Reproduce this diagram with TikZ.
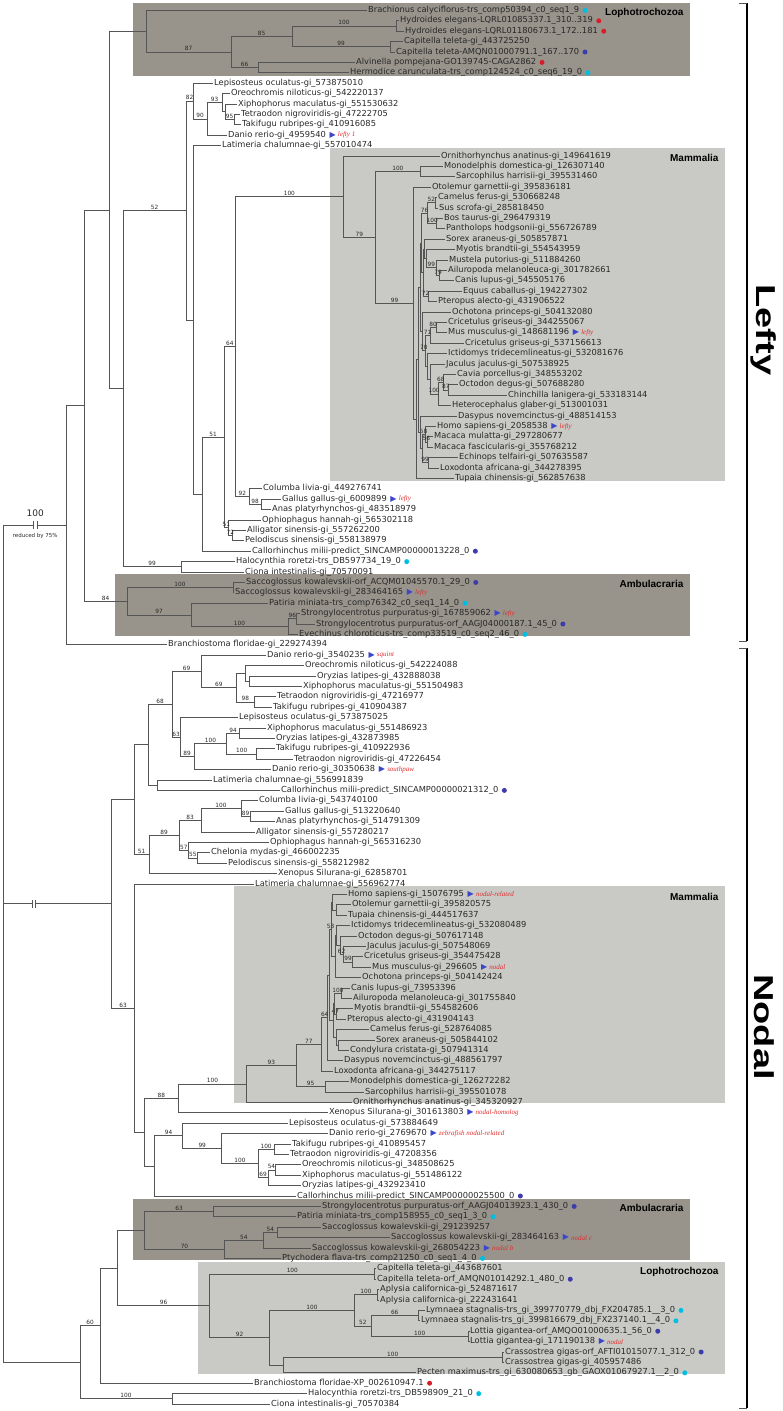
\documentclass[tikz,border=0pt]{standalone}
\usepackage{fontspec}
\setmainfont{DejaVu Sans}
\newfontfamily\grpfont{Liberation Sans}
\newfontfamily\tagfont{Liberation Serif}
\usetikzlibrary{positioning,calc}

\definecolor{edgecol}{RGB}{85,85,85}
\definecolor{leafcol}{RGB}{40,40,40}
\definecolor{darkbox}{RGB}{152,148,139}
\definecolor{lightbox}{RGB}{201,202,198}
\definecolor{cyanc}{RGB}{0,190,225}
\definecolor{redc}{RGB}{215,30,40}
\definecolor{bluec}{RGB}{60,60,170}
\definecolor{triblue}{RGB}{60,70,200}
\definecolor{tagred}{RGB}{225,45,45}

% internal node: name, x, first child, last child, labels
\newcommand\nd[6]{%
  \path let \p1=($(#3)!.5!(#4)$) in coordinate (#1) at (#2pt,\y1);
  \draw[edge] (#1) |- node[bs]{#5} (#3);
  \draw[edge] (#1) |- node[bs]{#6} (#4);}

\begin{document}
\begin{tikzpicture}[x=1pt, y=-10.4pt,
  leaf/.style={anchor=west, inner xsep=1pt, inner ysep=0pt, text height=6pt, text depth=1.7pt, font=\fontsize{8.3}{9}\selectfont, text=leafcol},
  edge/.style={draw=edgecol, line width=0.8pt},
  bs/.style={above, pos=.75, inner sep=0.6pt, font=\fontsize{5.8}{6}\selectfont, text=leafcol},
  cdot/.style={circle, inner sep=0pt, minimum size=5pt, fill=cyanc},
  rdot/.style={circle, inner sep=0pt, minimum size=5pt, fill=redc},
  bdot/.style={circle, inner sep=0pt, minimum size=5pt, fill=bluec},
  tri/.style={inner sep=0.3pt, font=\fontsize{8}{8}\selectfont, text=triblue},
  tag/.style={inner sep=0.5pt, font=\tagfont\itshape\fontsize{7}{8}\selectfont, text=tagred},
  grp/.style={font=\grpfont\bfseries\fontsize{10}{11}\selectfont, anchor=east, text=black},
  big/.style={font=\grpfont\bfseries\fontsize{38}{40}\selectfont, rotate=-90, yscale=0.72},
  brk/.style={fill=white, inner sep=0pt, minimum width=3pt, minimum height=7pt}]
\useasboundingbox (0pt,0pt) rectangle (782pt,-1411pt);

% clade boxes
\fill[darkbox] (133pt,-3pt) rectangle (690pt,-76pt);
\fill[lightbox] (330pt,-148pt) rectangle (725pt,-481pt);
\fill[darkbox] (115pt,-574pt) rectangle (690pt,-636pt);
\fill[lightbox] (234pt,-886pt) rectangle (725pt,-1103pt);
\fill[darkbox] (133pt,-1199pt) rectangle (690pt,-1260pt);
\fill[lightbox] (198pt,-1262pt) rectangle (725pt,-1374pt);
\node[grp] (g1) at (687pt,-13pt) {Lophotrochozoa};
\node[grp] (g2) at (722pt,-158pt) {Mammalia};
\node[grp] (g3) at (687pt,-584pt) {Ambulacraria};
\node[grp] (g4) at (722pt,-897pt) {Mammalia};
\node[grp] (g5) at (687pt,-1208pt) {Ambulacraria};
\node[grp] (g6) at (722pt,-1272pt) {Lophotrochozoa};

% leaves
\node[leaf] (l1) at (367,1) {Brachionus calyciflorus-trs\_comp50394\_c0\_seq1\_9};
\node[leaf] (l2) at (399,2) {Hydroides elegans-LQRL01085337.1\_310..319};
\node[leaf] (l3) at (404,3) {Hydroides elegans-LQRL01180673.1\_172..181};
\node[leaf] (l4) at (403,4) {Capitella teleta-gi\_443725250};
\node[leaf] (l5) at (395,5) {Capitella teleta-AMQN01000791.1\_167..170};
\node[leaf] (l6) at (355,6) {Alvinella pompejana-GO139745-CAGA2862};
\node[leaf] (l7) at (349,7) {Hermodice carunculata-trs\_comp124524\_c0\_seq6\_19\_0};
\node[leaf] (l8) at (213,8) {Lepisosteus oculatus-gi\_573875010};
\node[leaf] (l9) at (230,9) {Oreochromis niloticus-gi\_542220137};
\node[leaf] (l10) at (237,10) {Xiphophorus maculatus-gi\_551530632};
\node[leaf] (l11) at (240,11) {Tetraodon nigroviridis-gi\_47222705};
\node[leaf] (l12) at (241,12) {Takifugu rubripes-gi\_410916085};
\node[leaf] (l13) at (227,13) {Danio rerio-gi\_4959540};
\node[leaf] (l14) at (221,14) {Latimeria chalumnae-gi\_557010474};
\node[leaf] (l15) at (440,15) {Ornithorhynchus anatinus-gi\_149641619};
\node[leaf] (l16) at (443,16) {Monodelphis domestica-gi\_126307140};
\node[leaf] (l17) at (455,17) {Sarcophilus harrisii-gi\_395531460};
\node[leaf] (l18) at (431,18) {Otolemur garnettii-gi\_395836181};
\node[leaf] (l19) at (437,19) {Camelus ferus-gi\_530668248};
\node[leaf] (l20) at (438,20) {Sus scrofa-gi\_285818450};
\node[leaf] (l21) at (443,21) {Bos taurus-gi\_296479319};
\node[leaf] (l22) at (445,22) {Pantholops hodgsonii-gi\_556726789};
\node[leaf] (l23) at (445,23) {Sorex araneus-gi\_505857871};
\node[leaf] (l24) at (455,24) {Myotis brandtii-gi\_554543959};
\node[leaf] (l25) at (448,25) {Mustela putorius-gi\_511884260};
\node[leaf] (l26) at (447,26) {Ailuropoda melanoleuca-gi\_301782661};
\node[leaf] (l27) at (454,27) {Canis lupus-gi\_545505176};
\node[leaf] (l28) at (462,28) {Equus caballus-gi\_194227302};
\node[leaf] (l29) at (437,29) {Pteropus alecto-gi\_431906522};
\node[leaf] (l30) at (451,30) {Ochotona princeps-gi\_504132080};
\node[leaf] (l31) at (447,31) {Cricetulus griseus-gi\_344255067};
\node[leaf] (l32) at (447,32) {Mus musculus-gi\_148681196};
\node[leaf] (l33) at (464,33) {Cricetulus griseus-gi\_537156613};
\node[leaf] (l34) at (447,34) {Ictidomys tridecemlineatus-gi\_532081676};
\node[leaf] (l35) at (445,35) {Jaculus jaculus-gi\_507538925};
\node[leaf] (l36) at (456,36) {Cavia porcellus-gi\_348553202};
\node[leaf] (l37) at (458,37) {Octodon degus-gi\_507688280};
\node[leaf] (l38) at (507,38) {Chinchilla lanigera-gi\_533183144};
\node[leaf] (l39) at (451,39) {Heterocephalus glaber-gi\_513001031};
\node[leaf] (l40) at (457,40) {Dasypus novemcinctus-gi\_488514153};
\node[leaf] (l41) at (436,41) {Homo sapiens-gi\_2058538};
\node[leaf] (l42) at (433,42) {Macaca mulatta-gi\_297280677};
\node[leaf] (l43) at (433,43) {Macaca fascicularis-gi\_355768212};
\node[leaf] (l44) at (458,44) {Echinops telfairi-gi\_507635587};
\node[leaf] (l45) at (439,45) {Loxodonta africana-gi\_344278395};
\node[leaf] (l46) at (454,46) {Tupaia chinensis-gi\_562857638};
\node[leaf] (l47) at (262,47) {Columba livia-gi\_449276741};
\node[leaf] (l48) at (281,48) {Gallus gallus-gi\_6009899};
\node[leaf] (l49) at (271,49) {Anas platyrhynchos-gi\_483518979};
\node[leaf] (l50) at (261,50) {Ophiophagus hannah-gi\_565302118};
\node[leaf] (l51) at (246,51) {Alligator sinensis-gi\_557262200};
\node[leaf] (l52) at (244,52) {Pelodiscus sinensis-gi\_558138979};
\node[leaf] (l53) at (251,53) {Callorhinchus milii-predict\_SINCAMP00000013228\_0};
\node[leaf] (l54) at (235,54) {Halocynthia roretzi-trs\_DB597734\_19\_0};
\node[leaf] (l55) at (244,55) {Ciona intestinalis-gi\_70570091};
\node[leaf] (l56) at (245,56) {Saccoglossus kowalevskii-orf\_ACQM01045570.1\_29\_0};
\node[leaf] (l57) at (234,57) {Saccoglossus kowalevskii-gi\_283464165};
\node[leaf] (l58) at (268,58) {Patiria miniata-trs\_comp76342\_c0\_seq1\_14\_0};
\node[leaf] (l59) at (300,59) {Strongylocentrotus purpuratus-gi\_167859062};
\node[leaf] (l60) at (315,60) {Strongylocentrotus purpuratus-orf\_AAGJ04000187.1\_45\_0};
\node[leaf] (l61) at (298,61) {Evechinus chloroticus-trs\_comp33519\_c0\_seq2\_46\_0};
\node[leaf] (l62) at (167,62) {Branchiostoma floridae-gi\_229274394};
\node[leaf] (l63) at (266,63) {Danio rerio-gi\_3540235};
\node[leaf] (l64) at (304,64) {Oreochromis niloticus-gi\_542224088};
\node[leaf] (l65) at (316,65) {Oryzias latipes-gi\_432888038};
\node[leaf] (l66) at (302,66) {Xiphophorus maculatus-gi\_551504983};
\node[leaf] (l67) at (276,67) {Tetraodon nigroviridis-gi\_47216977};
\node[leaf] (l68) at (272,68) {Takifugu rubripes-gi\_410904387};
\node[leaf] (l69) at (238,69) {Lepisosteus oculatus-gi\_573875025};
\node[leaf] (l70) at (266,70) {Xiphophorus maculatus-gi\_551486923};
\node[leaf] (l71) at (275,71) {Oryzias latipes-gi\_432873985};
\node[leaf] (l72) at (275,72) {Takifugu rubripes-gi\_410922936};
\node[leaf] (l73) at (293,73) {Tetraodon nigroviridis-gi\_47226454};
\node[leaf] (l74) at (271,74) {Danio rerio-gi\_30350638};
\node[leaf] (l75) at (212,75) {Latimeria chalumnae-gi\_556991839};
\node[leaf] (l76) at (280,76) {Callorhinchus milii-predict\_SINCAMP00000021312\_0};
\node[leaf] (l77) at (258,77) {Columba livia-gi\_543740100};
\node[leaf] (l78) at (284,78) {Gallus gallus-gi\_513220640};
\node[leaf] (l79) at (275,79) {Anas platyrhynchos-gi\_514791309};
\node[leaf] (l80) at (255,80) {Alligator sinensis-gi\_557280217};
\node[leaf] (l81) at (269,81) {Ophiophagus hannah-gi\_565316230};
\node[leaf] (l82) at (210,82) {Chelonia mydas-gi\_466002235};
\node[leaf] (l83) at (227,83) {Pelodiscus sinensis-gi\_558212982};
\node[leaf] (l84) at (277,84) {Xenopus Silurana-gi\_62858701};
\node[leaf] (l85) at (254,85) {Latimeria chalumnae-gi\_556962774};
\node[leaf] (l86) at (347,86) {Homo sapiens-gi\_15076795};
\node[leaf] (l87) at (351,87) {Otolemur garnettii-gi\_395820575};
\node[leaf] (l88) at (347,88) {Tupaia chinensis-gi\_444517637};
\node[leaf] (l89) at (350,89) {Ictidomys tridecemlineatus-gi\_532080489};
\node[leaf] (l90) at (357,90) {Octodon degus-gi\_507617148};
\node[leaf] (l91) at (366,91) {Jaculus jaculus-gi\_507548069};
\node[leaf] (l92) at (363,92) {Cricetulus griseus-gi\_354475428};
\node[leaf] (l93) at (371,93) {Mus musculus-gi\_296605};
\node[leaf] (l94) at (361,94) {Ochotona princeps-gi\_504142424};
\node[leaf] (l95) at (350,95) {Canis lupus-gi\_73953396};
\node[leaf] (l96) at (352,96) {Ailuropoda melanoleuca-gi\_301755840};
\node[leaf] (l97) at (353,97) {Myotis brandtii-gi\_554582606};
\node[leaf] (l98) at (346,98) {Pteropus alecto-gi\_431904143};
\node[leaf] (l99) at (369,99) {Camelus ferus-gi\_528764085};
\node[leaf] (l100) at (375,100) {Sorex araneus-gi\_505844102};
\node[leaf] (l101) at (349,101) {Condylura cristata-gi\_507941314};
\node[leaf] (l102) at (343,102) {Dasypus novemcinctus-gi\_488561797};
\node[leaf] (l103) at (333,103) {Loxodonta africana-gi\_344275117};
\node[leaf] (l104) at (349,104) {Monodelphis domestica-gi\_126272282};
\node[leaf] (l105) at (364,105) {Sarcophilus harrisii-gi\_395501078};
\node[leaf] (l106) at (352,106) {Ornithorhynchus anatinus-gi\_345320927};
\node[leaf] (l107) at (328,107) {Xenopus Silurana-gi\_301613803};
\node[leaf] (l108) at (288,108) {Lepisosteus oculatus-gi\_573884649};
\node[leaf] (l109) at (328,109) {Danio rerio-gi\_2769670};
\node[leaf] (l110) at (291,110) {Takifugu rubripes-gi\_410895457};
\node[leaf] (l111) at (289,111) {Tetraodon nigroviridis-gi\_47208356};
\node[leaf] (l112) at (301,112) {Oreochromis niloticus-gi\_348508625};
\node[leaf] (l113) at (301,113) {Xiphophorus maculatus-gi\_551486122};
\node[leaf] (l114) at (301,114) {Oryzias latipes-gi\_432923410};
\node[leaf] (l115) at (296,115) {Callorhinchus milii-predict\_SINCAMP00000025500\_0};
\node[leaf] (l116) at (321,116) {Strongylocentrotus purpuratus-orf\_AAGJ04013923.1\_430\_0};
\node[leaf] (l117) at (296,117) {Patiria miniata-trs\_comp158955\_c0\_seq1\_3\_0};
\node[leaf] (l118) at (321,118) {Saccoglossus kowalevskii-gi\_291239257};
\node[leaf] (l119) at (390,119) {Saccoglossus kowalevskii-gi\_283464163};
\node[leaf] (l120) at (311,120) {Saccoglossus kowalevskii-gi\_268054223};
\node[leaf] (l121) at (281,121) {Ptychodera flava-trs\_comp21250\_c0\_seq1\_4\_0};
\node[leaf] (l122) at (376,122) {Capitella teleta-gi\_443687601};
\node[leaf] (l123) at (376,123) {Capitella teleta-orf\_AMQN01014292.1\_480\_0};
\node[leaf] (l124) at (379,124) {Aplysia californica-gi\_524871617};
\node[leaf] (l125) at (379,125) {Aplysia californica-gi\_222431641};
\node[leaf] (l126) at (425,126) {Lymnaea stagnalis-trs\_gi\_399770779\_dbj\_FX204785.1\_\_3\_0};
\node[leaf] (l127) at (420,127) {Lymnaea stagnalis-trs\_gi\_399816679\_dbj\_FX237140.1\_\_4\_0};
\node[leaf] (l128) at (469,128) {Lottia gigantea-orf\_AMQO01000635.1\_56\_0};
\node[leaf] (l129) at (469,129) {Lottia gigantea-gi\_171190138};
\node[leaf] (l130) at (504,130) {Crassostrea gigas-orf\_AFTI01015077.1\_312\_0};
\node[leaf] (l131) at (504,131) {Crassostrea gigas-gi\_405957486};
\node[leaf] (l132) at (416,132) {Pecten maximus-trs\_gi\_630080653\_gb\_GAOX01067927.1\_\_2\_0};
\node[leaf] (l133) at (253,133) {Branchiostoma floridae-XP\_002610947.1};
\node[leaf] (l134) at (307,134) {Halocynthia roretzi-trs\_DB598909\_21\_0};
\node[leaf] (l135) at (270,135) {Ciona intestinalis-gi\_70570384};

% dots, arrows and names
\node[cdot, right=2pt of l1] (d1) {};
\node[rdot, right=2pt of l2] (d2) {};
\node[rdot, right=2pt of l3] (d3) {};
\node[bdot, right=2pt of l5] (d5) {};
\node[rdot, right=2pt of l6] (d6) {};
\node[cdot, right=2pt of l7] (d7) {};
\node[tri, right=2pt of l13] (t13) {▶};
\node[tag, right=1pt of t13] (a13) {lefty 1};
\node[tri, right=2pt of l32] (t32) {▶};
\node[tag, right=1pt of t32] (a32) {lefty};
\node[tri, right=2pt of l41] (t41) {▶};
\node[tag, right=1pt of t41] (a41) {lefty};
\node[tri, right=2pt of l48] (t48) {▶};
\node[tag, right=1pt of t48] (a48) {lefty};
\node[bdot, right=2pt of l53] (d53) {};
\node[cdot, right=2pt of l54] (d54) {};
\node[bdot, right=2pt of l56] (d56) {};
\node[tri, right=2pt of l57] (t57) {▶};
\node[tag, right=1pt of t57] (a57) {lefty};
\node[cdot, right=2pt of l58] (d58) {};
\node[tri, right=2pt of l59] (t59) {▶};
\node[tag, right=1pt of t59] (a59) {lefty};
\node[bdot, right=2pt of l60] (d60) {};
\node[cdot, right=2pt of l61] (d61) {};
\node[tri, right=2pt of l63] (t63) {▶};
\node[tag, right=1pt of t63] (a63) {squint};
\node[tri, right=2pt of l74] (t74) {▶};
\node[tag, right=1pt of t74] (a74) {southpaw};
\node[bdot, right=2pt of l76] (d76) {};
\node[tri, right=2pt of l86] (t86) {▶};
\node[tag, right=1pt of t86] (a86) {nodal-related};
\node[tri, right=2pt of l93] (t93) {▶};
\node[tag, right=1pt of t93] (a93) {nodal};
\node[tri, right=2pt of l107] (t107) {▶};
\node[tag, right=1pt of t107] (a107) {nodal-homolog};
\node[tri, right=2pt of l109] (t109) {▶};
\node[tag, right=1pt of t109] (a109) {zebrafish nodal-related};
\node[bdot, right=2pt of l115] (d115) {};
\node[bdot, right=2pt of l116] (d116) {};
\node[cdot, right=2pt of l117] (d117) {};
\node[tri, right=2pt of l119] (t119) {▶};
\node[tag, right=1pt of t119] (a119) {nodal c};
\node[tri, right=2pt of l120] (t120) {▶};
\node[tag, right=1pt of t120] (a120) {nodal b};
\node[cdot, right=2pt of l121] (d121) {};
\node[bdot, right=2pt of l123] (d123) {};
\node[cdot, right=2pt of l126] (d126) {};
\node[cdot, right=2pt of l127] (d127) {};
\node[bdot, right=2pt of l128] (d128) {};
\node[tri, right=2pt of l129] (t129) {▶};
\node[tag, right=1pt of t129] (a129) {nodal};
\node[bdot, right=2pt of l130] (d130) {};
\node[cdot, right=2pt of l132] (d132) {};
\node[rdot, right=2pt of l133] (d133) {};
\node[cdot, right=2pt of l134] (d134) {};

% lefty tree
\nd{lo1}{396}{l2}{l3}{}{}
\nd{lo2}{390}{l4}{l5}{}{}
\nd{lo3}{292}{lo1}{lo2}{100}{99}
\nd{lo4}{258}{l6}{l7}{}{}
\nd{lo5}{231}{lo3}{lo4}{85}{66}
\nd{lo6}{146}{l1}{lo5}{}{87}
\nd{fi1}{234}{l11}{l12}{}{}
\nd{fi2}{225}{l10}{fi1}{}{95}
\nd{fi3}{222}{l9}{fi2}{}{}
\nd{fi4}{207}{fi3}{l13}{93}{}
\nd{fi5}{193}{l8}{fi4}{}{90}
\nd{ma2}{420}{l16}{l17}{}{}
\nd{pc1}{435}{l19}{l20}{}{}
\nd{bov}{436.7}{l21}{l22}{}{}
\nd{pc2}{427.7}{pc1}{bov}{52}{100}
\nd{car2}{439.3}{l26}{l27}{}{}
\nd{car1}{436.7}{l25}{car2}{}{79}
\nd{lau2}{426}{l24}{car1}{}{99}
\nd{lau1}{424.5}{l23}{lau2}{}{}
\nd{ch1}{428.3}{l28}{l29}{}{}
\nd{lau3}{423}{lau1}{ch1}{}{72}
\nd{eu6}{421.5}{pc2}{lau3}{76}{}
\nd{ro1}{436}{l31}{l32}{}{}
\nd{ro2}{430}{ro1}{l33}{80}{}
\nd{hy1}{448.3}{l37}{l38}{}{}
\nd{hy2}{443.3}{l36}{hy1}{}{87}
\nd{hy3}{438.3}{hy2}{l39}{68}{}
\nd{ro4}{430}{l35}{hy3}{}{100}
\nd{ro5}{427}{l34}{ro4}{}{}
\nd{ro6}{425}{ro2}{ro5}{71}{}
\nd{gl1}{422.7}{l30}{ro6}{}{70}
\nd{eu3}{420}{eu6}{gl1}{}{}
\nd{pr1}{427.7}{l42}{l43}{}{}
\nd{pr2}{425}{l41}{pr1}{}{56}
\nd{af1}{428.3}{l44}{l45}{}{}
\nd{eu5}{422}{pr2}{af1}{58}{99}
\nd{eu4}{420.7}{l40}{eu5}{}{}
\nd{eu2}{418.5}{eu3}{eu4}{}{}
\nd{eu1}{416.7}{eu2}{l46}{}{}
\nd{eu0}{413.3}{l18}{eu1}{}{}
\nd{ma1}{375.7}{ma2}{eu0}{100}{99}
\nd{ma0}{343}{l15}{ma1}{}{79}
\nd{bird1}{261}{l48}{l49}{}{}
\nd{bird2}{249}{l47}{bird1}{}{98}
\nd{tt1}{235.7}{ma0}{bird2}{100}{92}
\nd{rep1}{232}{l51}{l52}{}{}
\nd{rep2}{228.6}{l50}{rep1}{}{72}
\nd{tt2}{224}{tt1}{rep2}{64}{51}
\nd{tt3}{202}{tt2}{l53}{51}{}
\nd{ve1}{193}{l14}{tt3}{}{}
\nd{n52}{186}{fi5}{ve1}{82}{}
\nd{hc1}{181}{l54}{l55}{}{}
\nd{nO}{123}{n52}{hc1}{52}{99}
\nd{nN}{109}{lo6}{nO}{}{}
\nd{sa1}{233}{l56}{l57}{}{}
\nd{ec3}{296.7}{l59}{l60}{}{}
\nd{ec2}{288}{ec3}{l61}{96}{}
\nd{ec1}{191}{l58}{ec2}{}{100}
\nd{amb1}{127}{sa1}{ec1}{100}{97}
\nd{nM}{84}{nN}{amb1}{}{84}
\nd{LL}{66.8}{nM}{l62}{}{}

% nodal tree
\nd{nf1}{254}{l67}{l68}{}{}
\nd{nf2}{249.3}{l65}{l66}{}{}
\nd{nf3}{245}{l64}{nf2}{}{}
\nd{nf4}{236.7}{nf3}{nf1}{}{98}
\nd{nf5}{201}{l63}{nf4}{}{69}
\nd{nf9}{239.3}{l70}{l71}{}{}
\nd{nf10}{256.7}{l72}{l73}{}{}
\nd{nf8}{226.7}{nf9}{nf10}{94}{100}
\nd{nf7}{194.3}{nf8}{l74}{100}{}
\nd{nf6}{180}{l69}{nf7}{}{89}
\nd{nf11}{172}{nf5}{nf6}{69}{63}
\nd{nf12}{157}{l75}{l76}{}{}
\nd{nf13}{148.3}{nf11}{nf12}{68}{}
\nd{nb1}{250}{l78}{l79}{}{}
\nd{nb2}{241}{l77}{nb1}{}{89}
\nd{nb3}{201}{nb2}{l80}{100}{}
\nd{nb4}{197.3}{l82}{l83}{}{}
\nd{nb5}{188.3}{l81}{nb4}{}{55}
\nd{nb6}{179.3}{nb3}{nb5}{83}{57}
\nd{nb7}{149}{nb6}{l84}{89}{}
\nd{nE}{134.3}{nf13}{nb7}{}{51}
\nd{pm1}{336}{l87}{l88}{}{}
\nd{pm2}{332.7}{l86}{pm1}{}{}
\nd{cm1}{352.7}{l92}{l93}{}{}
\nd{rn1}{343.3}{l91}{cm1}{}{99}
\nd{rn2}{340}{l90}{rn1}{}{62}
\nd{rn3}{336.7}{l89}{rn2}{}{}
\nd{gl2}{335}{rn3}{l94}{}{}
\nd{eua}{331.7}{pm2}{gl2}{}{}
\nd{can1}{341.7}{l95}{l96}{}{}
\nd{bat1}{336.7}{l97}{l98}{}{}
\nd{la2}{334}{can1}{bat1}{100}{47}
\nd{sc1}{338.3}{l100}{l101}{}{}
\nd{ce1}{336}{l99}{sc1}{}{}
\nd{la3}{333}{la2}{ce1}{}{}
\nd{nY}{329.3}{eua}{la3}{53}{}
\nd{nX}{327.7}{nY}{l102}{}{}
\nd{mn2}{321.7}{nX}{l103}{64}{}
\nd{mar}{325}{l104}{l105}{}{}
\nd{mn1}{296}{mn2}{mar}{77}{95}
\nd{mn0}{246.7}{mn1}{l106}{93}{}
\nd{mx1}{178.3}{mn0}{l107}{100}{}
\nd{tt4}{274}{l110}{l111}{}{}
\nd{oo1}{275}{l112}{l113}{}{}
\nd{oo2}{267.9}{oo1}{l114}{54}{}
\nd{nf20}{258.3}{tt4}{oo2}{100}{69}
\nd{nf21}{221.7}{l109}{nf20}{}{100}
\nd{nf22}{182.7}{l108}{nf21}{}{99}
\nd{nf23}{154.3}{nf22}{l115}{94}{}
\nd{nH}{144.3}{mx1}{nf23}{88}{}
\nd{nG}{134.3}{l85}{nH}{}{}
\nd{nD}{111.7}{nE}{nG}{}{63}
\nd{an1}{213.6}{l116}{l117}{}{}
\nd{an2}{277.5}{l118}{l119}{}{}
\nd{an3}{263.2}{an2}{l120}{54}{}
\nd{an4}{224.3}{an3}{l121}{54}{}
\nd{amb2}{144.6}{an1}{an4}{63}{70}
\nd{cp1}{374.8}{l122}{l123}{}{}
\nd{ap1}{377.5}{l124}{l125}{}{}
\nd{ly1}{418.4}{l126}{l127}{}{}
\nd{lt1}{468.5}{l128}{l129}{}{}
\nd{g52}{371}{ly1}{lt1}{66}{100}
\nd{ln1}{354.5}{ap1}{g52}{100}{52}
\nd{cr1}{502.6}{l130}{l131}{}{}
\nd{oy1}{282.9}{cr1}{l132}{100}{}
\nd{g92}{269.5}{ln1}{oy1}{100}{}
\nd{lon}{209.8}{cp1}{g92}{100}{92}
\nd{nP}{117.5}{amb2}{lon}{}{96}
\nd{nQ}{100}{nP}{l133}{}{}
\nd{hc2}{172}{l134}{l135}{}{}
\nd{nR}{80}{nQ}{hc2}{60}{100}
\nd{root}{3.6}{LL}{nR}{}{}
\draw[edge] (root) |- (nD);

% shortened branches
\node[brk] (k1) at ($(root |- LL)!.5!(LL)$) {};
\draw[edge] (k1.north west) -- (k1.south west) (k1.north east) -- (k1.south east);
\node[above=1pt of k1, font=\fontsize{9}{10}\selectfont, text=leafcol] (k1t) {100};
\node[below=1pt of k1, font=\fontsize{5.5}{6}\selectfont, text=leafcol] (k1b) {reduced by 75\%};
\node[brk] (k2) at ($(root |- nD)+(30pt,0)$) {};
\draw[edge] (k2.north west) -- (k2.south west) (k2.north east) -- (k2.south east);

% family brackets
\draw[line width=2.5pt] (747pt,-3pt) -- (747pt,-641pt);
\draw[edgecol, line width=1pt] (739pt,-3pt) -- (747pt,-3pt) (739pt,-641pt) -- (747pt,-641pt);
\draw[line width=2.5pt] (747pt,-648pt) -- (747pt,-1408pt);
\draw[edgecol, line width=1pt] (739pt,-648pt) -- (747pt,-648pt) (739pt,-1408pt) -- (747pt,-1408pt);
\node[big] (fam1) at (764pt,-330pt) {Lefty};
\node[big] (fam2) at (764pt,-1027pt) {Nodal};
\end{tikzpicture}
\end{document}
